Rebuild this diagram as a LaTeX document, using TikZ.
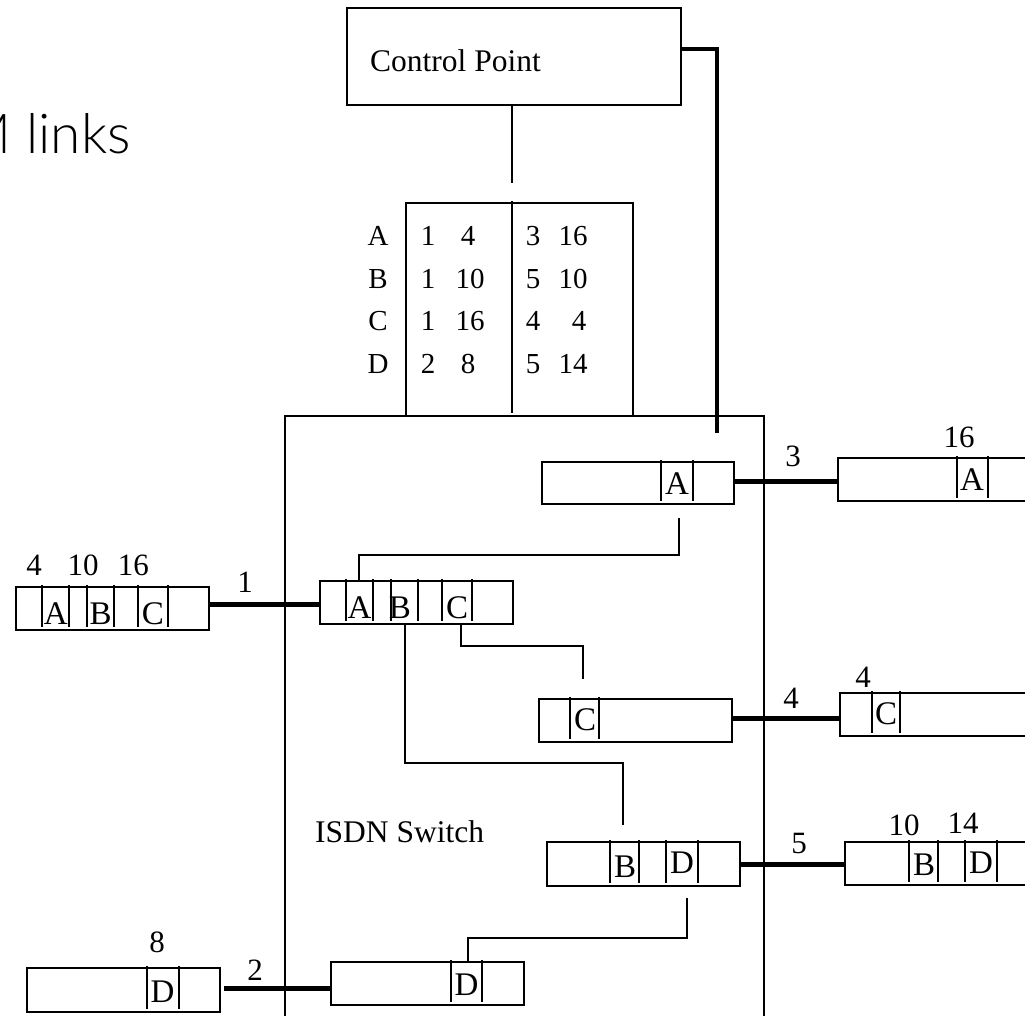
\documentclass[tikz,border=0pt]{standalone}
\usepackage{fontspec}
\setmainfont{Liberation Serif}
\newfontfamily\linksfont{Lato Light}
\usetikzlibrary{calc}

\tikzset{
  frame/.style={draw, line width=2pt, inner sep=0pt, outer sep=0pt, anchor=north west},
  slot/.style={line width=2pt},
  wire/.style={line width=2pt},
  link/.style={line width=5pt},
  ctl/.style={line width=4.5pt},
  lbl/.style={inner sep=0pt, anchor=base, font=\fontsize{31}{31}\selectfont},
  chan/.style={inner sep=0pt, anchor=base, font=\fontsize{33}{33}\selectfont},
  tab/.style={inner sep=0pt, anchor=base, font=\fontsize{29}{29}\selectfont},
}

% frame box by its corners: name, x1, y1, x2, y2
\newcommand\cellbox[5]{%
  \node[frame, minimum width={(#4-#2)*1pt}, minimum height={(#5-#3)*1pt}] (#1) at (#2,#3) {};}
% slot separators for a box: top y, bottom y, list of x
\newcommand\slots[3]{%
  \foreach \sx in {#3} {\draw[slot] (\sx,#1-2) -- (\sx,#2-3);}}

\begin{document}
\begin{tikzpicture}[x=1pt, y=-1pt]
\useasboundingbox (0,0) rectangle (1025,1015);
\clip (0,0) rectangle (1025,1015);

% heading at the top left
\node[inner sep=0pt, anchor=base east, font=\linksfont\fontsize{55}{55}\selectfont] (head) at (131,153) {M links};

% control point and its routing table
\cellbox{cp}{347}{8}{681}{105}
\node[inner sep=0pt, anchor=base west, font=\fontsize{31.5}{31.5}\selectfont] (cpt) at (370,71) {Control Point};

\cellbox{tbl}{406}{203}{633}{416}
\coordinate (divtop) at (512,201);
\coordinate (divbot) at (512,413);
\draw[wire] (divtop) -- (divbot);
\coordinate (cpline) at (512,183);
\draw[wire] (cp.south -| cpline) -- (cpline);

\foreach \r/\y/\a/\b/\bx/\c/\d/\dx in {A/245/1/4/468/3/16/573, B/288/1/10/470/5/10/573, C/330/1/16/470/4/4/579, D/373/2/8/468/5/14/573} {
  \node[tab] (row\r) at (378,\y) {\r};
  \node[tab] (in\r) at (428,\y) {\a};
  \node[tab] (ip\r) at (\bx,\y) {\b};
  \node[tab] (out\r) at (533,\y) {\c};
  \node[tab] (op\r) at (\dx,\y) {\d};
}

% switch enclosure
\cellbox{sw}{285}{416}{764}{1040}
\node[inner sep=0pt, anchor=base west, font=\fontsize{31.5}{31.5}\selectfont] (swt) at (315,842) {ISDN Switch};

% control link from the control point into the switch
\coordinate (cpknee) at (717,49);
\coordinate (cpdrop) at (717,433);
\draw[ctl] (cp.east |- cpknee) -- (cpknee) -- (cpdrop);

% frames inside the switch
\cellbox{ia}{542}{462}{734}{504}
\slots{462}{504}{661,693}
\node[chan] (iaA) at (677,494) {A};

\cellbox{im}{320}{581}{513}{624}
\slots{581}{624}{346,373,391,418,442,472}
\node[chan] (imA) at (359.5,618) {A};
\node[chan] (imB) at (400,618) {B};
\node[chan] (imC) at (457,618) {C};

\cellbox{ic}{539}{699}{732}{742}
\slots{699}{742}{570,599}
\node[chan] (icC) at (585,730) {C};

\cellbox{ibd}{547}{842}{740}{886}
\slots{842}{886}{610,639,666,698}
\node[chan] (ibdB) at (625,877) {B};
\node[chan] (ibdD) at (682,873) {D};

\cellbox{id}{331}{962}{524}{1005}
\slots{962}{1005}{451,482}
\node[chan] (idD) at (466.5,995) {D};

% frames on the external links
\cellbox{in1}{16}{587}{209}{630}
\slots{587}{630}{42,69,87,114,138,168}
\node[chan] (in1A) at (55.7,624.5) {A};
\node[chan] (in1B) at (100.7,624.5) {B};
\node[chan] (in1C) at (153,624.5) {C};
\node[lbl] (t4) at (34,575.5) {4};
\node[lbl] (t10) at (83,575.5) {10};
\node[lbl] (t16) at (133.4,575.5) {16};

\cellbox{od}{27}{968}{220}{1012}
\slots{968}{1012}{147,179}
\node[chan] (odD) at (162.6,1002) {D};
\node[lbl] (t8) at (157,952) {8};

\cellbox{oa}{838}{458}{1060}{501}
\slots{458}{501}{957,988}
\node[chan] (oaA) at (972,490) {A};
\node[lbl] (u16) at (959,447) {16};

\cellbox{oc}{840}{693}{1060}{736}
\slots{693}{736}{872,900}
\node[chan] (ocC) at (886,724) {C};
\node[lbl] (u4) at (863,687) {4};

\cellbox{obd}{845}{842}{1060}{885}
\slots{842}{885}{909,938,965,997}
\node[chan] (obdB) at (924,875) {B};
\node[chan] (obdD) at (981,873) {D};
\node[lbl] (u10) at (904,835) {10};
\node[lbl] (u14) at (963,833) {14};

% external links
\coordinate (y1) at (0,604);
\coordinate (y2) at (0,988);
\coordinate (y3) at (0,481);
\coordinate (y4) at (0,718);
\coordinate (y5) at (0,864);
\draw[link] (in1.east |- y1) -- (im.west |- y1);
\draw[link, shorten <=4pt] (od.east |- y2) -- (id.west |- y2);
\draw[link] (ia.east |- y3) -- (oa.west |- y3);
\draw[link] (ic.east |- y4) -- (oc.west |- y4);
\draw[link] (ibd.east |- y5) -- (obd.west |- y5);
\node[lbl] (n1) at (245,592) {1};
\node[lbl] (n2) at (255,980) {2};
\node[lbl] (n3) at (793,466) {3};
\node[lbl] (n4) at (791,708) {4};
\node[lbl] (n5) at (799,853) {5};

% paths of the channels through the switch
\coordinate (aS) at (679,518);
\coordinate (aE) at (359,580);
\draw[wire] (aS) |- (0,555 -| aE) -- (aE);
\coordinate (cS) at (461,624);
\coordinate (cE) at (583,679);
\draw[wire] (cS) |- (0,646 -| cE) -- (cE);
\coordinate (bS) at (405,624);
\coordinate (bE) at (623,825);
\draw[wire] (bS) |- (0,763 -| bE) -- (bE);
\coordinate (dS) at (687,898);
\coordinate (dE) at (468,961);
\draw[wire] (dS) |- (0,938 -| dE) -- (dE);
\end{tikzpicture}
\end{document}
